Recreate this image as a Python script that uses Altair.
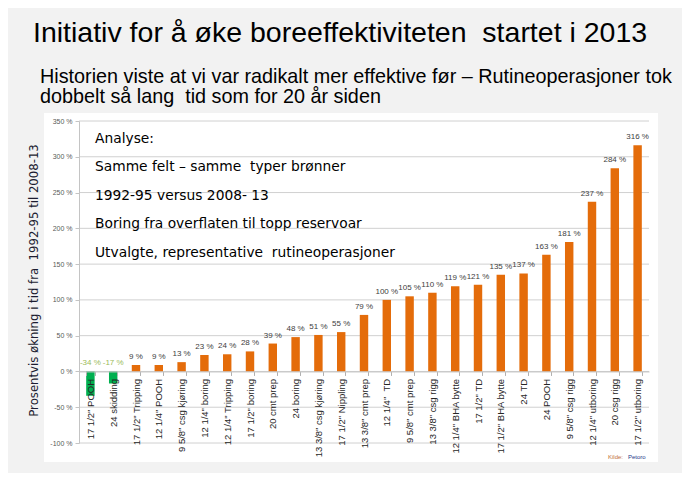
import altair as alt
import pandas as pd

categories = [
    '17 1/2" POOH', '24 skidding', '17 1/2" Tripping', '12 1/4" POOH',
    '9 5/8" csg kjøring', '12 1/4" boring', '12 1/4" Tripping', '17 1/2" boring',
    '20 cmt prep', '24 boring', '13 3/8" csg kjøring', '17 1/2" Nippling',
    '13 3/8" cmt prep', '12 1/4"\u00a0 TD', '9 5/8" cmt prep', '13 3/8" csg rigg',
    '12 1/4" BHA bytte', '17 1/2" TD', '17 1/2" BHA bytte', '24 TD',
    '24 POOH', '9 5/8" csg rigg', '12 1/4" utboring', '20 csg rigg',
    '17 1/2" utboring',
]
values = [-34, -17, 9, 9, 13, 23, 24, 28, 39, 48, 51, 55, 79, 100, 105, 110,
          119, 121, 135, 137, 163, 181, 237, 284, 316]
y_ticks = [-100, -50, 0, 50, 100, 150, 200, 250, 300, 350]

title_text = "Initiativ for å øke boreeffektiviteten \u00a0startet i 2013"
subtitle_lines = [
    "Historien viste at vi var radikalt mer effektive før – Rutineoperasjoner tok",
    "dobbelt så lang \u00a0tid som for 20 år siden",
]
note_lines = [
    "Analyse:",
    "Samme felt – samme \u00a0typer brønner",
    "1992-95 versus 2008- 13",
    "Boring fra overflaten til topp reservoar",
    "Utvalgte, representative \u00a0rutineoperasjoner",
]
y_title = "Prosentvis økning i tid fra \u00a01992-95 til 2008-13"

W, H = 570, 322
Y_MIN, Y_MAX = -100, 350
zero_offset = -(H - H * Y_MAX / (Y_MAX - Y_MIN))

df = pd.DataFrame({"op": categories, "pct": values})
grid_df = pd.DataFrame({"pct": y_ticks})
one = pd.DataFrame({"k": [0]})

yscale = alt.Scale(domain=[Y_MIN, Y_MAX], nice=False, zero=False)
xscale = alt.Scale(paddingInner=0.63, paddingOuter=0.315)

x_axis = alt.Axis(
    title=None, labelAngle=270, labelFontSize=9.5, labelFont="Liberation Sans",
    labelColor="#262626", offset=zero_offset, domainColor="#c4c4c4",
    tickColor="#b0b0b0", tickSize=4, tickBand="extent", labelPadding=3,
    labelLimit=0, zindex=1,
)
y_axis = alt.Axis(
    values=y_ticks, grid=False, labelExpr="datum.value + ' %'",
    labelFontSize=7, labelFont="Liberation Sans", labelColor="#595959",
    labelOverlap=False,
    domainColor="#c4c4c4", tickColor="#c4c4c4", tickSize=4, labelPadding=3,
    title=y_title, titleFont="DejaVu Sans", titleFontSize=11.7,
    titleFontWeight="normal", titleColor="#1c1c30", titleAngle=270,
    titleX=-46, titleY=159, titleAlign="center", titleBaseline="middle",
    zindex=1,
)

panel = alt.Chart(one).mark_rect(fill="white").encode(
    x=alt.value(-35), x2=alt.value(579), y=alt.value(-8), y2=alt.value(341)
)

grid = alt.Chart(grid_df).mark_rule(color="#d0d0d0", strokeWidth=1).encode(
    y=alt.Y("pct:Q", scale=yscale, axis=y_axis),
    x=alt.value(0), x2=alt.value(W),
)

base = alt.Chart(df).transform_calculate(
    label="datum.pct + ' %'",
    ypos="max(datum.pct, 0)",
)

bars = base.mark_bar().encode(
    x=alt.X("op:N", sort=categories, scale=xscale, axis=x_axis),
    y=alt.Y("pct:Q", scale=yscale, axis=y_axis),
    y2=alt.datum(0),
    color=alt.condition("datum.pct < 0", alt.value("#00b050"), alt.value("#e46c0a")),
)

labels = base.mark_text(
    font="Liberation Sans", fontSize=8, baseline="bottom", dy=-4
).encode(
    x=alt.X("op:N", sort=categories, scale=xscale, axis=x_axis),
    y=alt.Y("ypos:Q", scale=yscale, axis=y_axis),
    text="label:N",
    color=alt.condition("datum.pct < 0", alt.value("#9bbb59"), alt.value("#404040")),
)

title = alt.Chart(one).mark_text(
    text=title_text, font="Liberation Sans", fontSize=28.5, align="left",
    baseline="alphabetic", color="#000000",
).encode(x=alt.value(-46), y=alt.value(-79))

subtitle = alt.Chart(one).mark_text(
    text=subtitle_lines, font="Liberation Sans", fontSize=19.8, lineHeight=20,
    align="left", baseline="alphabetic", color="#000000",
).encode(x=alt.value(-39), y=alt.value(-38))

note = alt.Chart(one).mark_text(
    text=note_lines, font="DejaVu Sans", fontSize=13.8, lineHeight=28.4,
    align="left", baseline="alphabetic", color="#000000",
).encode(x=alt.value(16), y=alt.value(22))

src1 = alt.Chart(one).mark_text(
    text="Kilde:", font="Liberation Sans", fontSize=6, align="left",
    baseline="middle", color="#c0703a",
).encode(x=alt.value(529), y=alt.value(336))
src2 = alt.Chart(one).mark_text(
    text="Petoro", font="Liberation Sans", fontSize=6, align="left",
    baseline="middle", color="#1f3a8a",
).encode(x=alt.value(549), y=alt.value(336))

chart = alt.layer(
    panel, grid, bars, labels, title, subtitle, note, src1, src2
).properties(
    width=W, height=H,
    autosize=alt.AutoSizeParams(type="none"),
    padding={"left": 71, "top": 113, "right": 33, "bottom": 30},
    background="#f2f2f2",
).configure_view(strokeWidth=0)

chart.save("out.html", embed_options={"renderer": "svg", "actions": False})
